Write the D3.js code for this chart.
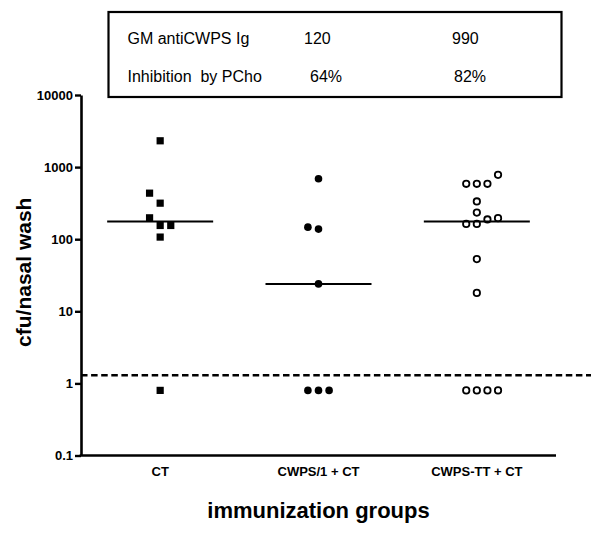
<!DOCTYPE html>
<html>
<head>
<meta charset="utf-8">
<script src="https://cdn.jsdelivr.net/npm/d3@7"></script>
<style>
  body { margin: 0; background: #fff; }
  svg { display: block; }
  text { font-family: "Liberation Sans", Arial, Helvetica, sans-serif; fill: #000; }
</style>
</head>
<body>
<svg id="chart" width="601" height="535"></svg>
<script>
// ---------------- data ----------------
const groups = ["CT", "CWPS/1 + CT", "CWPS-TT + CT"];
const ctValues = [155, 198, 155, 316, 435, 107, 2317, 0.8];
const cwps1Values = [690, 138, 147, 24, 0.8, 0.8, 0.8];
const cwpsTTValues = [587, 587, 587, 781, 334, 234, 163, 163, 188, 196, 53, 18, 0.8, 0.8, 0.8, 0.8];
const groupValues = [ctValues, cwps1Values, cwpsTTValues];
const markerTypes = ["square", "dot", "ring"];
const yTickValues = [0.1, 1, 10, 100, 1000, 10000];
const yTickLabels = ["0.1", "1", "10", "100", "1000", "10000"];
const detectionLimit = 1.3;
const tableLabels = ["GM antiCWPS Ig", "Inhibition  by PCho"];
const tableCol1 = ["120", "64%"];
const tableCol2 = ["990", "82%"];
const yTitle = "cfu/nasal wash";
const xTitle = "immunization groups";

// ---------------- layout ----------------
const svg = d3.select("#chart");
const L = 81, R = 556, T = 95, B = 455.5;

const y = d3.scaleLog().domain([0.1, 10000]).range([B, T]);
const x = d3.scaleBand().domain(groups).range([L, R]);
const cx = g => x(g) + x.bandwidth() / 2;

// summary table box
svg.append("rect")
  .attr("x", 108.5).attr("y", 12).attr("width", 453).attr("height", 85)
  .attr("fill", "none").attr("stroke", "#000").attr("stroke-width", 2.2);

const rowBase = [43.5, 82];
const col1X = [304, 310];
const col2X = [452, 454];
tableLabels.forEach((t, i) => {
  svg.append("text").attr("x", 127.5).attr("y", rowBase[i])
    .style("font-size", "16px").style("white-space", "pre").text(t);
  svg.append("text").attr("x", col1X[i]).attr("y", rowBase[i])
    .style("font-size", "16px").text(tableCol1[i]);
  svg.append("text").attr("x", col2X[i]).attr("y", rowBase[i])
    .style("font-size", "16px").text(tableCol2[i]);
});

// y axis
const yAxis = d3.axisLeft(y)
  .tickValues(yTickValues)
  .tickFormat((d, i) => yTickLabels[i])
  .tickSize(6).tickSizeOuter(0).tickPadding(2);
const gy = svg.append("g").attr("transform", `translate(${L},0)`).call(yAxis);
gy.select(".domain").attr("stroke-width", 2.6).attr("stroke", "#000");
gy.selectAll(".tick line").attr("stroke-width", 2.4).attr("stroke", "#000");
gy.selectAll(".tick text")
  .style("font-size", "13px").style("font-weight", "bold")
  .attr("font-family", null).attr("fill", "#000");

// x axis
const xAxis = d3.axisBottom(x).tickSize(0).tickSizeOuter(0).tickPadding(11.3);
const gx = svg.append("g").attr("transform", `translate(0,${B})`).call(xAxis);
gx.select(".domain").attr("stroke-width", 2.6).attr("stroke", "#000")
  .attr("d", `M${L - 1.3},0H${R}`);
gx.selectAll(".tick text")
  .style("font-size", "13px").style("font-weight", "bold")
  .attr("font-family", null).attr("fill", "#000");

// detection limit dashed line
svg.append("line")
  .attr("x1", L).attr("x2", 591)
  .attr("y1", y(detectionLimit)).attr("y2", y(detectionLimit))
  .attr("stroke", "#000").attr("stroke-width", 2.5)
  .attr("stroke-dasharray", "6.5,3.6");

// axis titles
svg.append("text")
  .attr("transform", `translate(31,${(T + B) / 2 - 3}) rotate(-90)`)
  .attr("text-anchor", "middle")
  .style("font-size", "21px").style("font-weight", "bold")
  .text(yTitle);
svg.append("text")
  .attr("x", (L + R) / 2).attr("y", 518)
  .attr("text-anchor", "middle")
  .style("font-size", "22px").style("font-weight", "bold")
  .text(xTitle);

// scatter layout: points that would overlap are moved sideways in slots
const step = 10.6, gap = 10.5;
const slotOrder = [0, -1, 1, 2, -2, 3, -3];
function arrange(values) {
  const placed = [];
  values.forEach(v => {
    const py = y(v);
    const slot = slotOrder.find(s => !placed.some(p => p.slot === s && Math.abs(p.py - py) < gap));
    placed.push({ v, py, slot });
  });
  return placed;
}

groups.forEach((g, gi) => {
  const pts = arrange(groupValues[gi]);
  const c = cx(g);
  const layer = svg.append("g");
  const type = markerTypes[gi];
  if (type === "square") {
    layer.selectAll("rect").data(pts).join("rect")
      .attr("x", d => c + d.slot * step - 3.6).attr("y", d => d.py - 3.6)
      .attr("width", 7.2).attr("height", 7.2).attr("fill", "#000");
  } else if (type === "dot") {
    layer.selectAll("circle").data(pts).join("circle")
      .attr("cx", d => c + d.slot * step).attr("cy", d => d.py)
      .attr("r", 3.8).attr("fill", "#000");
  } else {
    layer.selectAll("circle").data(pts).join("circle")
      .attr("cx", d => c + d.slot * step).attr("cy", d => d.py)
      .attr("r", 3.2).attr("fill", "#fff").attr("stroke", "#000").attr("stroke-width", 1.8);
  }
  // median line
  const med = d3.median(groupValues[gi]);
  svg.append("line")
    .attr("x1", c - 53).attr("x2", c + 53)
    .attr("y1", y(med)).attr("y2", y(med))
    .attr("stroke", "#000").attr("stroke-width", 2);
});
</script>
</body>
</html>
